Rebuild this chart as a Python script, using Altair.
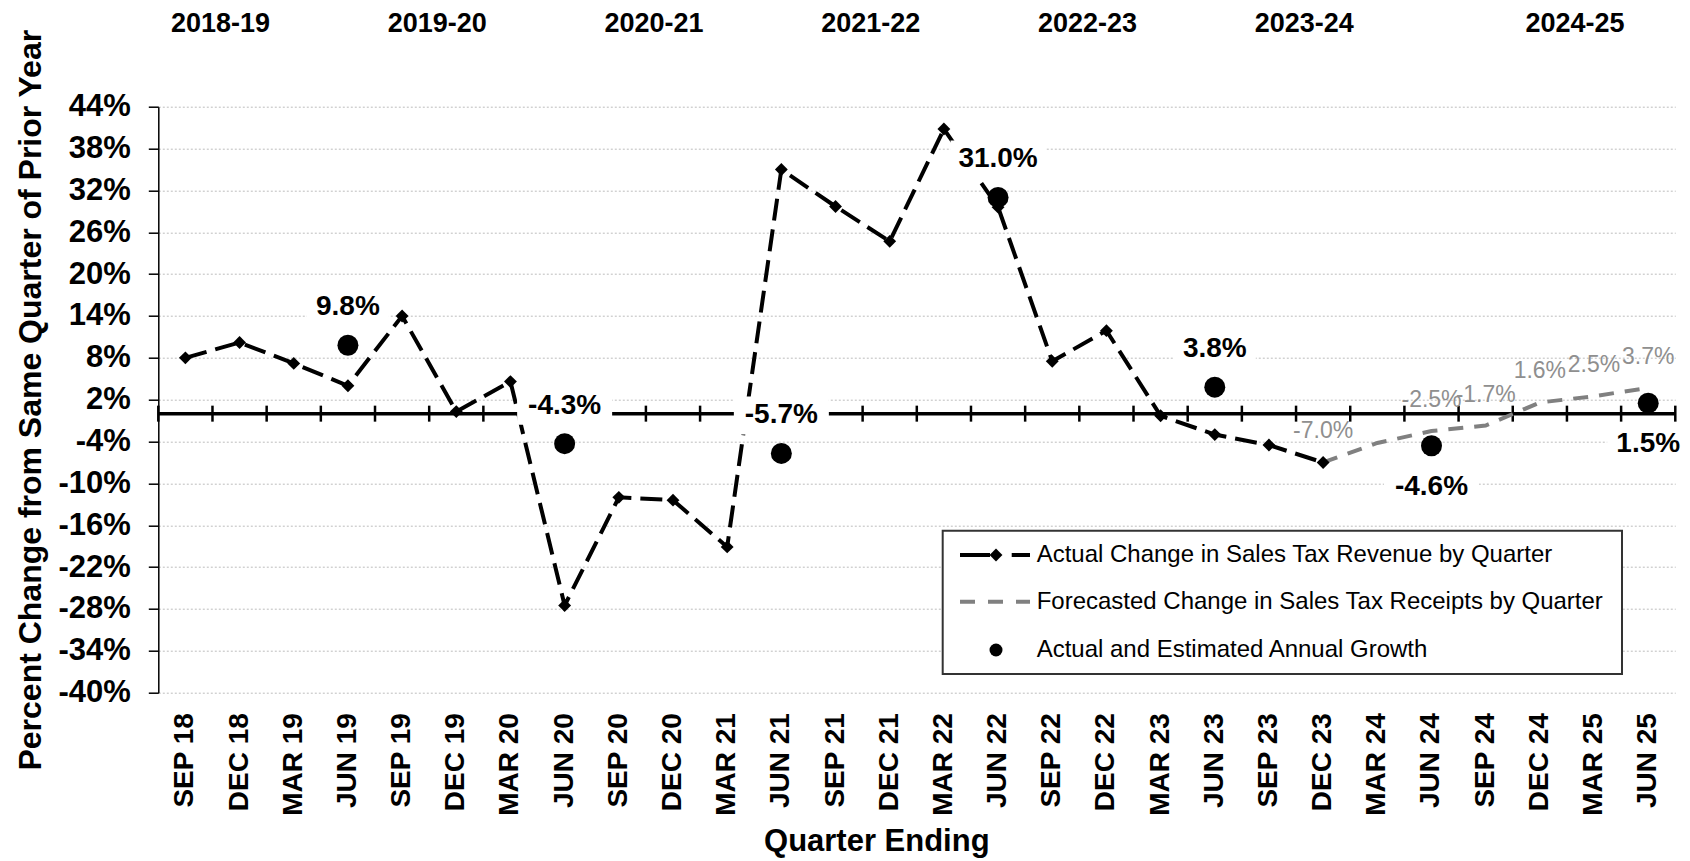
import altair as alt
import pandas as pd

# ---------------- data ----------------
quarters = ["SEP 18", "DEC 18", "MAR 19", "JUN 19", "SEP 19", "DEC 19", "MAR 20", "JUN 20",
            "SEP 20", "DEC 20", "MAR 21", "JUN 21", "SEP 21", "DEC 21", "MAR 22", "JUN 22",
            "SEP 22", "DEC 22", "MAR 23", "JUN 23", "SEP 23", "DEC 23", "MAR 24", "JUN 24",
            "SEP 24", "DEC 24", "MAR 25", "JUN 25"]
actual_change = [8.0, 10.2, 7.2, 4.0, 14.0, 0.3, 4.6, -27.5, -12.0, -12.4, -19.1, 35.0,
                 29.7, 24.7, 40.8, 29.6, 7.5, 11.9, -0.3, -3.0, -4.5, -7.0]
forecast_quarters = ["DEC 23", "MAR 24", "JUN 24", "SEP 24", "DEC 24", "MAR 25", "JUN 25"]
forecast_change = [-7.0, -4.2, -2.5, -1.7, 1.6, 2.5, 3.7]
forecast_labels = ["-7.0%", "", "-2.5%", "-1.7%", "1.6%", "2.5%", "3.7%"]
annual_quarters = ["JUN 19", "JUN 20", "JUN 21", "JUN 22", "JUN 23", "JUN 24", "JUN 25"]
annual_growth = [9.8, -4.3, -5.7, 31.0, 3.8, -4.6, 1.5]
annual_kind = ["Actual", "Actual", "Actual", "Actual", "Actual", "Estimated", "Estimated"]
fiscal_years = ["2018-19", "2019-20", "2020-21", "2021-22", "2022-23", "2023-24", "2024-25"]
fiscal_anchor = ["DEC 18", "DEC 19", "DEC 20", "DEC 21", "DEC 22", "DEC 23", "MAR 25"]
y_ticks = list(range(-40, 45, 6))

legend_labels = ["Actual Change in Sales Tax Revenue by Quarter",
                 "Forecasted Change in Sales Tax Receipts by Quarter",
                 "Actual and Estimated Annual Growth"]

# ---------------- tables ----------------
df_actual = pd.DataFrame({"quarter": quarters[:len(actual_change)], "value": actual_change})
df_fore = pd.DataFrame({"quarter": forecast_quarters, "value": forecast_change,
                        "label": forecast_labels})
df_annual = pd.DataFrame({"quarter": annual_quarters, "value": annual_growth,
                          "label": [f"{v:.1f}%" for v in annual_growth],
                          "kind": annual_kind})
df_fy = pd.DataFrame({"quarter": fiscal_anchor, "fy": fiscal_years})
df_q = pd.DataFrame({"quarter": quarters})
one = pd.DataFrame({"k": [0]})

FONT = "Liberation Sans"
W, H = 1517, 586
BLACK = "#000000"
GRAY = "#808080"

xs = alt.Scale(type="band", domain=quarters, paddingInner=0, paddingOuter=0)
ys = alt.Scale(domain=[-40, 44], nice=False, zero=False)

x_axis = alt.Axis(
    title="Quarter Ending", labelAngle=270, labelAlign="right", labelBaseline="middle",
    labelFont=FONT, labelFontSize=28, labelFontWeight="bold", labelColor=BLACK,
    labelPadding=20, labelOverlap=False, domain=False, ticks=False, grid=False,
    titleFont=FONT, titleFontSize=31, titleFontWeight="bold", titleColor=BLACK,
    titleX=718, titleY=158, titleBaseline="alphabetic", titleAlign="center")
y_axis = alt.Axis(
    title="Percent Change from Same Quarter of Prior Year", values=y_ticks,
    labelExpr="datum.value + '%'", labelFont=FONT, labelFontSize=31,
    labelFontWeight="bold", labelColor=BLACK, labelPadding=18, labelFlush=False,
    tickSize=10, tickColor=BLACK, tickWidth=1.5, domainColor=BLACK, domainWidth=1.5,
    grid=True, gridColor="#bdbdbd", gridDash=[2, 2], gridWidth=1,
    titleFont=FONT, titleFontSize=32, titleFontWeight="bold", titleColor=BLACK,
    titleAngle=270, titleX=-118, titleY=293, titleBaseline="alphabetic",
    titleAlign="center")


def X(**kw):
    return alt.X("quarter:N", scale=xs, axis=x_axis, **kw)


def Y(field="value:Q"):
    return alt.Y(field, scale=ys, axis=y_axis)


zero_line = alt.Chart(one).mark_rule(color=BLACK, strokeWidth=3.5).encode(
    y=Y("z:Q")).transform_calculate(z="0")

tick_marks = alt.Chart(df_q).mark_rule(color=BLACK, strokeWidth=2.5, yOffset=-8, y2Offset=8).encode(
    x=X(bandPosition=0), y=Y("z:Q"), y2="z2:Q").transform_calculate(z="0", z2="0")
end_tick = alt.Chart(one).mark_rule(color=BLACK, strokeWidth=2.5, yOffset=-8, y2Offset=8).encode(
    x=alt.value(W), y=Y("z:Q"), y2="z2:Q").transform_calculate(z="0", z2="0")

actual_line = alt.Chart(df_actual).mark_line(
    color=BLACK, strokeWidth=4, strokeDash=[22, 9], strokeCap="butt").encode(
    x=X(), y=Y(), order=alt.Order("idx:Q")).transform_window(idx="row_number()")
actual_pts = alt.Chart(df_actual).mark_point(
    shape="diamond", filled=True, color=BLACK, opacity=1, size=165).encode(x=X(), y=Y())

fore_line = alt.Chart(df_fore).mark_line(
    color=GRAY, strokeWidth=4, strokeDash=[15, 11], strokeCap="butt").encode(
    x=X(), y=Y(), order=alt.Order("idx:Q")).transform_window(idx="row_number()")

annual_pts = alt.Chart(df_annual).mark_point(
    shape="circle", filled=True, color=BLACK, opacity=1, size=440).encode(x=X(), y=Y())

BOX = "M-1,-0.4H1V0.4H-1Z"


def label_layers(kind, dy):
    base = alt.Chart(df_annual).transform_filter(alt.datum.kind == kind).transform_calculate(
        bs="pow(length(datum.label) * 13 + 30, 2)")
    box = base.mark_point(shape=BOX, filled=True, color="white", opacity=1,
                          strokeWidth=0, yOffset=dy).encode(
        x=X(), y=Y(), size=alt.Size("bs:Q", scale=None, legend=None))
    txt = base.mark_text(font=FONT, fontSize=28, fontWeight="bold", color=BLACK,
                         baseline="middle", align="center", yOffset=dy).encode(
        x=X(), y=Y(), text="label:N")
    return [box, txt]


above = label_layers("Actual", -38)
below = label_layers("Estimated", 41)

fore_text = alt.Chart(df_fore).transform_filter(alt.datum.label != "").mark_text(
    font=FONT, fontSize=23, color="#8f8f8f", baseline="middle", align="center",
    yOffset=-31).encode(x=X(), y=Y(), text="label:N")

fy_text = alt.Chart(df_fy).mark_text(
    font=FONT, fontSize=27, fontWeight="bold", color=BLACK, baseline="middle",
    align="center").encode(
    x=X(bandPosition=0.15), y=alt.value(-83), text="fy:N")

# ---------------- legend (drawn inside the plot) ----------------
LX0, LX1, LY0, LY1 = 784.4, 1463.7, 424, 567.3
R1, R2, R3 = 448.3, 495, 543.3
legend_box = alt.Chart(one).mark_rect(fill="white", stroke="#333333", strokeWidth=2).encode(
    x=alt.value(LX0), x2=alt.value(LX1), y=alt.value(LY0), y2=alt.value(LY1))
leg_a1 = alt.Chart(one).mark_rule(color=BLACK, strokeWidth=4).encode(
    x=alt.value(801.7), x2=alt.value(831.7), y=alt.value(R1))
leg_a2 = alt.Chart(one).mark_point(shape="diamond", filled=True, color=BLACK, opacity=1,
                                   size=165).encode(x=alt.value(837.7), y=alt.value(R1))
leg_a3 = alt.Chart(one).mark_rule(color=BLACK, strokeWidth=4).encode(
    x=alt.value(853.4), x2=alt.value(871.7), y=alt.value(R1))
leg_f = alt.Chart(one).mark_rule(color=GRAY, strokeWidth=4, strokeDash=[15, 13]).encode(
    x=alt.value(801.7), x2=alt.value(871.7), y=alt.value(R2))
leg_d = alt.Chart(one).mark_point(shape="circle", filled=True, color=BLACK, opacity=1,
                                  size=169).encode(x=alt.value(837.7), y=alt.value(R3))
leg_texts = [
    alt.Chart(one).mark_text(font=FONT, fontSize=24, color=BLACK, align="left",
                             baseline="middle", text=t).encode(
        x=alt.value(878.4), y=alt.value(ry))
    for t, ry in zip(legend_labels, [R1, R2, R3])
]

chart = alt.layer(
    zero_line, tick_marks, end_tick,
    actual_line, fore_line, actual_pts, annual_pts,
    *above, *below, fore_text, fy_text,
    legend_box, leg_a1, leg_a2, leg_a3, leg_f, leg_d, *leg_texts
).properties(
    width=W, height=H,
    autosize=alt.AutoSizeParams(type="none"),
    padding={"left": 150.3, "top": 98.7, "right": 6.5, "bottom": 168.3},
    background="white",
).configure_view(stroke=None)

chart.save("out.html", embed_options={"renderer": "svg", "actions": False})
